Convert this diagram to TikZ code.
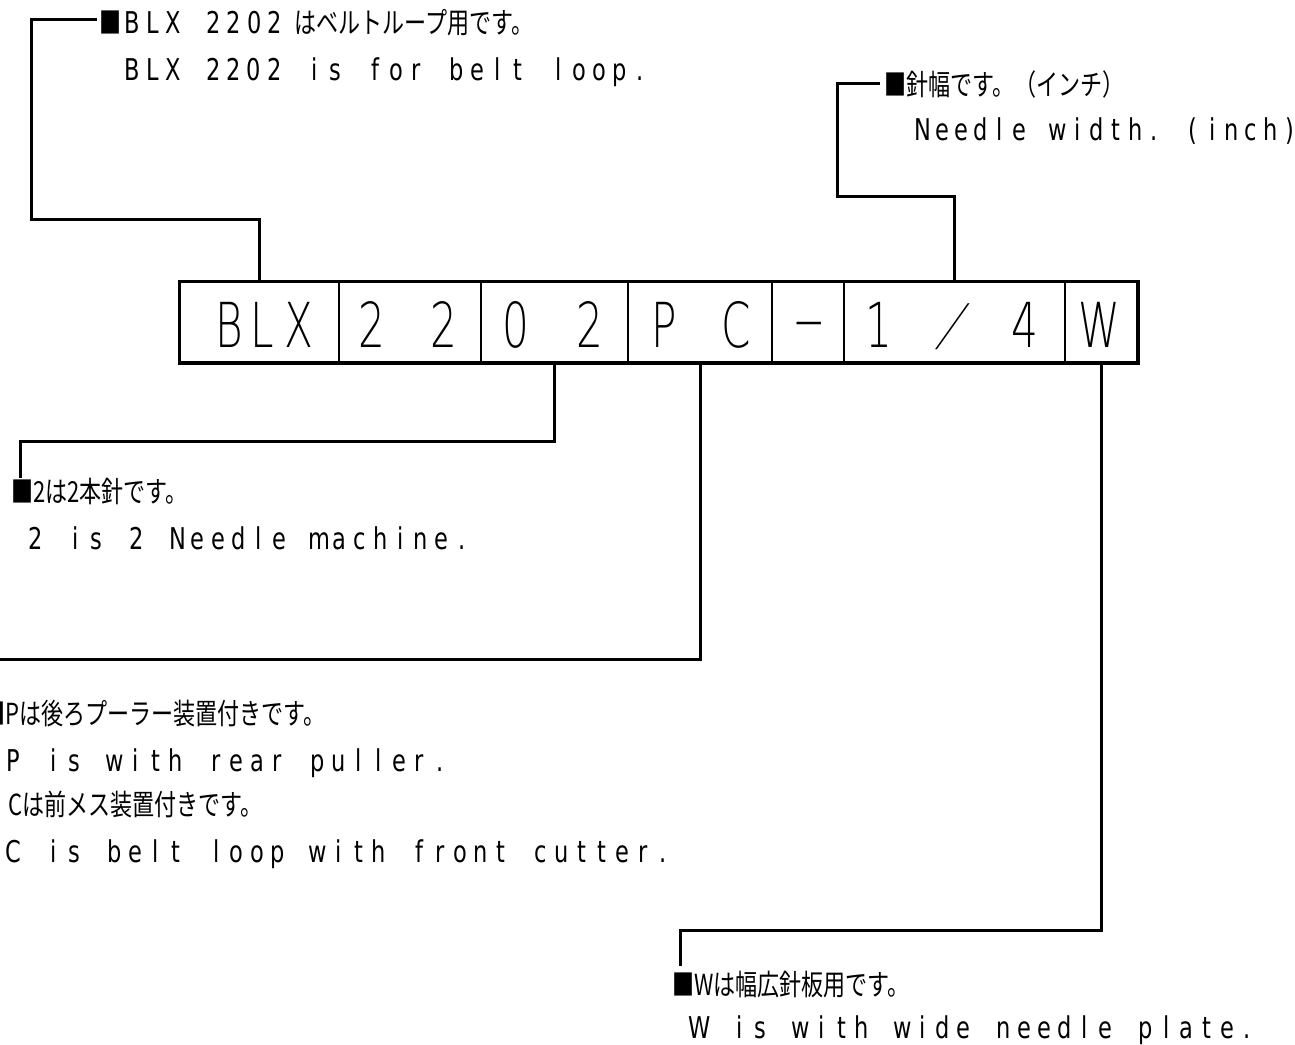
\documentclass[tikz,border=0pt]{standalone}
\usepackage{fontspec}
\usepackage{graphicx}
\newfontfamily\enf[FakeStretch=0.75]{DejaVu Sans}
\newfontfamily\jpf[FakeStretch=0.76]{Noto Sans CJK JP}
\newfontfamily\boxf[FakeStretch=0.68]{DejaVu Sans ExtraLight}
\ExplSyntaxOn
\NewDocumentCommand\monoline{O{20.3pt}m}
  {\str_map_inline:nn {#2} {\makebox[#1][c]{##1}}}
\ExplSyntaxOff
\newcommand\enT[2][20.3pt]{{\enf\fontsize{30}{36}\selectfont\monoline[#1]{#2}}}
\newcommand\jaT[1]{{\jpf\fontsize{29}{34}\selectfont #1}}
\newcommand\bxT[1]{{\boxf\fontsize{62}{70}\selectfont #1}}
\newcommand\bxS[1]{{\boxf\fontsize{56}{64}\selectfont #1}}
\tikzset{
  conn/.style={line width=3pt},
  cell/.style={draw, line width=2pt, minimum height=80pt, inner sep=0pt},
  ch/.style={anchor=base, inner sep=0pt},
  lab/.style={anchor=base west, inner sep=0pt},
}
\begin{document}
\begin{tikzpicture}[x=1pt,y=-1pt]
\useasboundingbox (0,0) rectangle (1295,1044);
% cells
\node[cell, minimum width=159pt] (c1) at (259.5,322) {};
\node[cell, minimum width=142pt] (c2) at (410,322) {};
\node[cell, minimum width=147pt] (c3) at (554.5,322) {};
\node[cell, minimum width=144pt] (c4) at (700,322) {};
\node[cell, minimum width=72pt] (c5) at (808,322) {};
\node[cell, minimum width=221pt] (c6) at (954.5,322) {};
\node[cell, minimum width=72pt] (c7) at (1101,322) {};
\draw[line width=3pt] (c1.north west) rectangle (c7.south east);
% characters
\node[ch] (b1) at (229,347) {\bxT{B}};
\node[ch] (b2) at (262,347) {\bxT{L}};
\node[ch] (b3) at (299,347) {\bxT{X}};
\node[ch] (b4) at (372,347) {\bxT{2}};
\node[ch] (b5) at (444,347) {\bxT{2}};
\node[ch] (b6) at (516,347) {\bxT{0}};
\node[ch] (b7) at (590,347) {\bxT{2}};
\node[ch] (b8) at (664,347) {\bxT{P}};
\node[ch] (b9) at (736,347) {\bxT{C}};
\node[ch] (b10) at (809,340) {\bxT{\scalebox{2.2}[1]{-}}};
\node[ch] (b11) at (879,347) {\bxT{1}};
\node[ch, transform shape, xslant=0.5] (b12) at (944,344) {\bxS{/}};
\node[ch] (b13) at (1025,347) {\bxT{4}};
\node[ch] (b14) at (1099,347) {\bxT{W}};
% coordinates
\coordinate (k1) at (31,219);
\coordinate (e1) at (97,19);
\coordinate (k2) at (837,196);
\coordinate (e2) at (880,83);
\coordinate (k3) at (20,441);
\coordinate (e3) at (20,478);
\coordinate (e4) at (-5,659);
\coordinate (k5) at (680,930);
\coordinate (e5) at (680,966);
% connectors
\draw[conn] (c1.north) |- (k1) |- (e1);
\draw[conn] (c6.north) |- (k2) |- (e2);
\draw[conn] (c3.south) |- (k3) -- (e3);
\draw[conn] (c4.south) |- (e4);
\draw[conn] (c7.south) |- (k5) -- (e5);
% labels
\node[lab] (t1) at (99,33) {\jaT{■}\hspace{1pt}\enT{BLX 2202}\hspace{10pt}\jaT{はベルトループ用です。}};
\node[lab] (t2) at (122,80) {\enT{BLX 2202 is for belt loop.}};
\node[lab] (t3) at (884,95) {\jaT{■針幅です。（インチ）}};
\node[lab] (t4) at (913,140) {\enT[19.3pt]{Needle width. (inch)}};
\node[lab] (t5) at (11,502) {\jaT{■2は2本針です。}};
\node[lab] (t6) at (25,549) {\enT{2 is 2 Needle machine.}};
\node[lab] (t7) at (-17,724) {\jaT{■Pは後ろプーラー装置付きです。}};
\node[lab] (t8) at (3,771) {\enT{P is with rear puller.}};
\node[lab] (t9) at (8,815) {\jaT{Cは前メス装置付きです。}};
\node[lab] (t10) at (3,862) {\enT{C is belt loop with front cutter.}};
\node[lab] (t11) at (672,995) {\jaT{■Wは幅広針板用です。}};
\node[lab] (t12) at (689,1038) {\enT{W is with wide needle plate.}};
\end{tikzpicture}
\end{document}
